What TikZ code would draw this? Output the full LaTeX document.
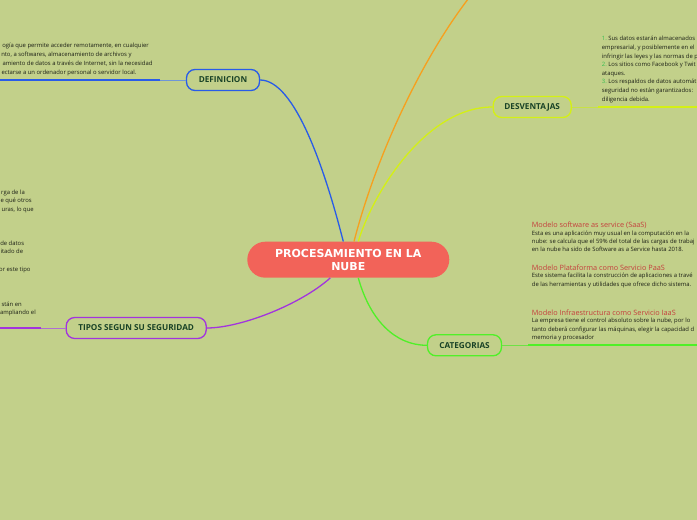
\documentclass[tikz,border=0pt]{standalone}
\usepackage{fontspec}
\setmainfont{Open Sans}
\newfontfamily\titlefont{DejaVu Sans}
\definecolor{bgc}{RGB}{194,208,138}
\definecolor{coral}{RGB}{242,99,89}
\definecolor{txt}{RGB}{28,32,22}
\definecolor{lbl}{RGB}{24,66,38}
\definecolor{redt}{RGB}{196,62,60}
\definecolor{numg}{RGB}{50,190,80}
\definecolor{cblue}{RGB}{40,92,232}
\definecolor{cbluel}{RGB}{110,150,215}
\definecolor{corange}{RGB}{246,160,30}
\definecolor{cyg}{RGB}{212,240,20}
\definecolor{cygl}{RGB}{200,225,70}
\definecolor{cgreen}{RGB}{80,240,40}
\definecolor{cgreenl}{RGB}{110,225,70}
\definecolor{cpurp}{RGB}{162,52,222}
\definecolor{cpurpl}{RGB}{175,110,210}
\newcommand{\nm}[1]{\textcolor{numg}{#1}}
\begin{document}
\begin{tikzpicture}[x=1pt,y=-1pt,
  body/.style={inner sep=0pt, font=\fontsize{5.9}{8.3}\selectfont, text=txt},
  ttl/.style={inner sep=0pt, font=\fontsize{7.3}{8.3}\selectfont, text=redt},
  topic/.style={draw, line width=1.3pt, rounded corners=8.5pt, minimum height=21pt,
    inner sep=0pt, font=\bfseries\fontsize{8.2}{9}\selectfont, text=lbl},
  central/.style={fill=coral, rounded corners=18pt, minimum width=202pt, minimum height=36pt,
    inner sep=0pt, align=center, text=white, font=\titlefont\bfseries\fontsize{11}{12.7}\selectfont},
  conn/.style={line width=1.3pt},
  thinlead/.style={line width=1pt},
  thicklead/.style={line width=2pt}]
\useasboundingbox (0,0) rectangle (697,520);
\fill[bgc] (0,0) rectangle (697,520);
\clip (0,0) rectangle (697,520);

% central and topic nodes
\node[central] (c) at (348.3,259.7) {PROCESAMIENTO EN LA\\NUBE};
\node[topic, draw=cblue, minimum width=73pt] (def) at (223,80) {DEFINICION};
\node[topic, draw=cyg, minimum width=78pt] (des) at (532.2,107) {DESVENTAJAS};
\node[topic, draw=cgreen, minimum width=74pt] (cat) at (464.5,345.3) {CATEGORIAS};
\node[topic, draw=cpurp, minimum width=140pt] (tip) at (136.2,328) {TIPOS SEGUN SU SEGURIDAD};

% free ends
\coordinate (orend) at (472,-6);
\coordinate (defk) at (160,80);
\coordinate (defe) at (-3,80);
\coordinate (desk) at (598,107);
\coordinate (dese) at (700,107);
\coordinate (catk) at (528,345.3);
\coordinate (cate) at (700,345.3);
\coordinate (tipk) at (41,328);
\coordinate (tipe) at (-3,328);

% connectors
\draw[conn, cblue] ([xshift=-5pt]c.north) .. controls (325,170) and (295,80) .. (def.east);
\draw[conn, corange] ([xshift=5.7pt]c.north) .. controls (375,160) and (420,60) .. (orend);
\draw[conn, cyg] ([xshift=10pt]c.north) .. controls (372,195) and (425,107) .. (des.west);
\draw[conn, cgreen] ([xshift=10pt]c.south) .. controls (370,320) and (395,345.3) .. (cat.west);
\draw[conn, cpurp] ([xshift=-18pt]c.south) .. controls (300,305) and (240,328) .. (tip.east);

% lead lines
\draw[thinlead, cbluel] (def.west) -- (defk);
\draw[thicklead, cblue] (defk) -- (defe);
\draw[thinlead, cygl] (des.east) -- (desk);
\draw[thicklead, cyg] (desk) -- (dese);
\draw[thinlead, cgreenl] (cat.east) -- (catk);
\draw[thicklead, cgreen] (catk) -- (cate);
\draw[thinlead, cpurpl] (tip.west) -- (tipk);
\draw[thicklead, cpurp] (tipk) -- (tipe);

% DEFINICION text (clipped at left)
\node[body, anchor=base east] (d1) at (149,47.8) {ogía que permite acceder remotamente, en cualquier};
\node[body, anchor=base east] (d2) at (131.7,56.8) {nto, a softwares, almacenamiento de archivos y};
\node[body, anchor=base east] (d3) at (152.7,65.8) {amiento de datos a través de Internet, sin la necesidad};
\node[body, anchor=base east] (d4) at (136.7,74.8) {ectarse a un ordenador personal o servidor local.};

% TIPOS text (clipped at left)
\node[body, anchor=base east] (t1) at (25,194.5) {rga de la};
\node[body, anchor=base east] (t2) at (32,202.5) {e qué otros};
\node[body, anchor=base east] (t3) at (34,211) {uras, lo que};
\node[body, anchor=base east] (t4) at (24.3,245) {de datos};
\node[body, anchor=base east] (t5) at (23.3,253.5) {itado de};
\node[body, anchor=base east] (t6) at (30.7,271) {or este tipo};
\node[body, anchor=base east] (t7) at (22,306) {stán en};
\node[body, anchor=base east] (t8) at (36,314.5) {ampliando el};

% DESVENTAJAS text
\node[body, anchor=base west] (v1) at (601.7,40.8) {\nm{1.}~Sus datos estarán almacenados};
\node[body, anchor=base west] (v2) at (601.7,49.4) {empresarial, y posiblemente en el};
\node[body, anchor=base west] (v3) at (601.7,58) {infringir las leyes y las normas de p};
\node[body, anchor=base west] (v4) at (601.7,66.6) {\nm{2.}~Los sitios como Facebook y Twit};
\node[body, anchor=base west] (v5) at (601.7,75.2) {ataques.};
\node[body, anchor=base west] (v6) at (601.7,83.8) {\nm{3.}~Los respaldos de datos automát};
\node[body, anchor=base west] (v7) at (601.7,92.4) {seguridad no están garantizados: };
\node[body, anchor=base west] (v8) at (601.7,101) {diligencia debida.};

% CATEGORIAS text
\node[ttl, anchor=base west] (k1) at (531.7,227.3) {Modelo software as service (SaaS)};
\node[body, anchor=base west] (k2) at (531.7,235.1) {Esta es una aplicación muy usual en la computación en la};
\node[body, anchor=base west] (k3) at (531.7,243.4) {nube: se calcula que el 59\% del total de las cargas de trabaj};
\node[body, anchor=base west] (k4) at (531.7,251.7) {en la nube ha sido de Software as a Service hasta 2018.};
\node[ttl, anchor=base west] (k5) at (531.7,270) {Modelo Plataforma como Servicio PaaS};
\node[body, anchor=base west] (k6) at (531.7,277.8) {Este sistema facilita la construcción de aplicaciones a travé};
\node[body, anchor=base west] (k7) at (531.7,286.1) {de las herramientas y utilidades que ofrece dicho sistema.};
\node[ttl, anchor=base west] (k8) at (531.7,315) {Modelo Infraestructura como Servicio IaaS};
\node[body, anchor=base west] (k9) at (531.7,322.8) {La empresa tiene el control absoluto sobre la nube, por lo};
\node[body, anchor=base west] (k10) at (531.7,331.1) {tanto deberá configurar las máquinas, elegir la capacidad d};
\node[body, anchor=base west] (k11) at (531.7,339.4) {memoria y procesador};
\end{tikzpicture}
\end{document}
